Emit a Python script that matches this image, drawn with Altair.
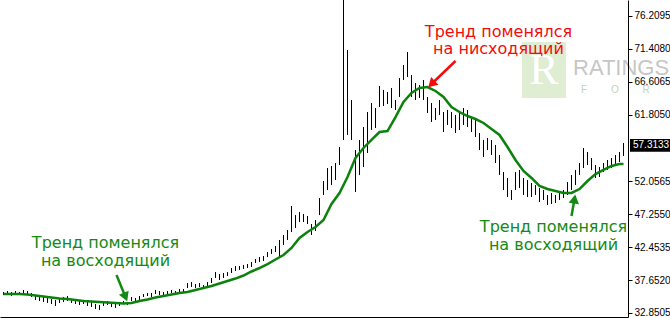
import altair as alt
import pandas as pd

# ---- data ----
highs = [35.91, 36.06, 35.91, 36.06, 35.91, 36.21, 36.06, 35.77, 35.48, 35.33,
         35.19, 35.04, 34.89, 34.75, 35.04, 35.19, 35.33, 34.89, 34.75, 34.60,
         34.75, 34.45, 34.45, 34.16, 34.02, 34.45, 34.60, 34.45, 34.16, 34.31,
         34.60, 34.45, 35.19, 35.04, 35.33, 35.62, 35.77, 35.77, 36.21, 36.06,
         35.91, 36.06, 36.21, 36.06, 36.35, 36.35, 37.23, 37.37, 37.08, 37.23,
         36.93, 37.37, 37.96, 38.83, 38.54, 38.69, 38.83, 39.42, 39.71, 39.71,
         39.86, 40.00, 40.29, 40.73, 41.02, 41.17, 41.75, 42.19, 42.63, 43.51,
         44.24, 44.97, 48.47, 47.15, 47.59, 47.30, 47.01, 45.84, 46.43, 49.64,
         52.12, 54.02, 54.31, 54.75, 57.08, 79.00, 71.25, 63.95, 56.65, 58.11,
         60.00, 62.19, 63.51, 62.78, 65.99, 65.41, 65.11, 65.70, 63.95, 67.16,
         69.06, 70.95, 67.60, 66.43, 66.13, 66.87, 64.38, 63.51, 62.78, 63.95,
         62.19, 62.49, 62.19, 61.76, 62.19, 62.78, 62.49, 61.32, 61.03, 59.13,
         58.11, 58.40, 58.11, 57.38, 55.92, 53.43, 52.56, 50.81, 53.43, 53.73,
         52.56, 52.27, 51.83, 51.53, 51.09, 50.81, 50.08, 50.37, 50.08, 50.51,
         50.81, 51.97, 53.00, 53.73, 54.75, 56.94, 56.35, 55.48, 54.45, 54.16,
         54.75, 55.19, 55.48, 55.92, 56.35, 57.67]
lows = [35.48, 35.48, 35.33, 35.62, 35.48, 35.62, 35.48, 35.19, 34.75, 34.60,
        34.45, 34.31, 34.16, 33.87, 34.31, 34.45, 34.60, 34.31, 34.16, 34.02,
        34.16, 33.87, 33.72, 33.43, 33.29, 33.87, 34.02, 33.72, 33.58, 33.87,
        34.16, 34.02, 34.60, 34.45, 34.75, 35.19, 35.33, 35.19, 35.62, 35.48,
        35.33, 35.62, 35.77, 35.62, 35.77, 35.91, 36.50, 36.64, 36.50, 36.64,
        36.50, 36.79, 37.23, 37.96, 37.67, 37.96, 38.25, 38.69, 38.98, 39.13,
        39.27, 39.42, 39.56, 40.15, 40.29, 40.44, 41.02, 41.46, 41.75, 40.88,
        42.78, 43.51, 44.67, 45.26, 46.13, 46.13, 45.84, 44.24, 44.82, 47.15,
        50.08, 50.81, 51.53, 52.27, 54.45, 58.11, 58.84, 58.11, 50.51, 53.00,
        54.16, 56.21, 59.57, 59.86, 62.92, 63.07, 63.36, 62.78, 62.49, 64.38,
        66.87, 67.30, 64.38, 63.95, 64.24, 63.95, 62.05, 60.73, 61.03, 61.76,
        59.27, 60.30, 59.86, 59.13, 59.57, 60.30, 60.00, 59.27, 58.54, 56.65,
        55.62, 56.65, 55.92, 54.75, 53.00, 50.81, 49.78, 49.35, 50.81, 51.09,
        50.08, 49.78, 49.78, 50.08, 49.05, 49.35, 48.62, 48.76, 48.91, 49.35,
        49.64, 50.08, 50.81, 51.53, 53.00, 54.02, 54.45, 53.73, 52.56, 52.70,
        53.43, 53.73, 54.02, 54.45, 54.89, 55.77]

ma_idx = list(range(0, 156, 2)) + [155]
ma_vals = [35.62, 35.62, 35.62, 35.55, 35.40, 35.26, 35.11, 34.97, 34.89, 34.75,
           34.60, 34.53, 34.45, 34.38, 34.31, 34.23, 34.31, 34.60, 34.82, 35.11,
           35.33, 35.55, 35.77, 35.91, 36.21, 36.50, 36.79, 37.15, 37.52, 37.88,
           38.32, 38.91, 39.42, 40.00, 40.66, 41.32, 42.34, 43.80, 44.67, 45.40,
           46.43, 48.76, 50.37, 52.70, 55.48, 56.94, 58.11, 59.27, 59.42, 61.46,
           63.66, 64.97, 65.70, 65.84, 65.26, 64.38, 62.92, 62.19, 61.61, 61.17,
           60.59, 59.71, 58.84, 57.08, 55.19, 53.58, 52.56, 51.39, 50.95, 50.66,
           50.37, 50.37, 50.95, 52.12, 53.14, 53.73, 54.31, 54.60, 54.60]

tick_values = [32.8505, 37.6520, 42.4535, 47.2550, 52.0565,
               61.8050, 66.6065, 71.4080, 76.2095]
last_price = 57.3133

note_lines = ["Тренд поменялся", "на нисходящий",
              "Тренд поменялся", "на восходящий",
              "Тренд поменялся", "на восходящий"]
note_x = [123.75, 123.75, 25.5, 25.5, 137.5, 137.5]
note_y = [73.87, 71.39, 43.07, 40.44, 45.40, 42.77]

RED = "#f20c0c"
GREEN = "#148a14"
note_colors = [RED, RED, GREEN, GREEN, GREEN, GREEN]

arrow_tail_x = [113.0, 28.25, 142.0]
arrow_tail_y = [69.64, 38.40, 47.01]
arrow_head_x = [107.0, 30.5, 142.75]
arrow_head_y = [66.28, 35.19, 49.49]
arrow_angle = [226, 158, 9]
arrow_colors = [RED, GREEN, GREEN]

wm_letters = ["F", "O", "R"]

# ---- tables ----
bars = pd.DataFrame({"idx": list(range(len(highs))), "high": highs, "low": lows})
ma = pd.DataFrame({"idx": ma_idx, "ma": ma_vals})
notes = pd.DataFrame({"x": note_x, "y": note_y, "t": note_lines, "c": note_colors})
arrows = pd.DataFrame({"x": arrow_tail_x, "y": arrow_tail_y, "x2": arrow_head_x,
                       "y2": arrow_head_y, "a": arrow_angle, "c": arrow_colors})
price = pd.DataFrame({"p": [last_price], "lo": [last_price - 0.93],
                      "hi": [last_price + 0.93], "t": [f"{last_price:.4f}"]})
one = pd.DataFrame({"k": [0]})

xs = alt.Scale(domain=[-0.875, 156.125], nice=False, zero=False)
ys = alt.Scale(domain=[32.266, 78.545], nice=False, zero=False)

AX_X = alt.Axis(labels=False, ticks=False, title=None, grid=False,
                domainColor="black", domainWidth=1)
AX_Y = alt.Axis(orient="right", values=tick_values, format=".4f", title=None,
                grid=False, labelFont="Liberation Sans", labelFontSize=10,
                labelColor="#000000", tickColor="black", tickSize=4,
                domainColor="black", domainWidth=1, labelPadding=2, zindex=1)

xenc = lambda f: alt.X(f, type="quantitative", scale=xs, axis=AX_X)
yenc = lambda f: alt.Y(f, type="quantitative", scale=ys, axis=AX_Y)

# watermark
wm_box = alt.Chart(one).mark_rect(color="#d9eacb", opacity=0.85).encode(
    x=alt.value(522), x2=alt.value(566), y=alt.value(42), y2=alt.value(98))
wm_r = alt.Chart(one).mark_text(text="R", font="Liberation Serif", fontSize=44,
                                color="#ffffff", align="center", baseline="middle").encode(
    x=alt.value(544), y=alt.value(71))
wm_t = alt.Chart(one).mark_text(text="RATINGS", font="Liberation Sans",
                                fontSize=22, color="#c6c6c6", align="left",
                                baseline="middle").encode(
    x=alt.value(573), y=alt.value(68))
wm_f = [alt.Chart(one).mark_text(text=ch, font="Liberation Sans", fontSize=10,
                                 color="#c4d4b6", align="center",
                                 baseline="middle").encode(
            x=alt.value(584 + 31 * k), y=alt.value(90))
        for k, ch in enumerate(wm_letters)]

bar_layer = alt.Chart(bars).mark_rule(color="black", strokeWidth=1, clip=True).encode(
    x=xenc("idx"), y=yenc("low"), y2="high:Q")

ma_layer = alt.Chart(ma).mark_line(color="#0b820b", strokeWidth=2.5).encode(
    x=xenc("idx"), y=yenc("ma"))

arrow_shaft = alt.Chart(arrows).mark_rule(strokeWidth=2.5).encode(
    x=xenc("x"), y=yenc("y"), x2="x2:Q", y2="y2:Q",
    color=alt.Color("c:N", scale=None))
arrow_head = alt.Chart(arrows).mark_point(shape="triangle-up", filled=True, size=110,
                                          opacity=1).encode(
    x=xenc("x2"), y=yenc("y2"), angle=alt.Angle("a:Q", scale=None),
    color=alt.Color("c:N", scale=None))

note_layer = alt.Chart(notes).mark_text(font="DejaVu Sans", fontSize=16, align="center",
                                        baseline="middle").encode(
    x=xenc("x"), y=yenc("y"), text="t:N", color=alt.Color("c:N", scale=None))

price_box = alt.Chart(price).mark_rect(color="black").encode(
    x=alt.value(630), x2=alt.value(670), y=yenc("lo"), y2="hi:Q")
price_txt = alt.Chart(price).mark_text(color="white", font="Liberation Sans", fontSize=10,
                                       align="left", baseline="middle").encode(
    x=alt.value(633), y=yenc("p"), text="t:N")

chart = alt.layer(
    wm_box, wm_r, wm_t, *wm_f, bar_layer, ma_layer, arrow_shaft, arrow_head,
    note_layer, price_box, price_txt
).properties(
    width=628, height=317,
    padding={"left": 0, "top": 0, "right": 42, "bottom": 1},
    autosize=alt.AutoSizeParams(type="none"),
    background="white",
).configure_view(stroke=None)

chart.save("out.html", embed_options={"renderer": "svg", "actions": False})
